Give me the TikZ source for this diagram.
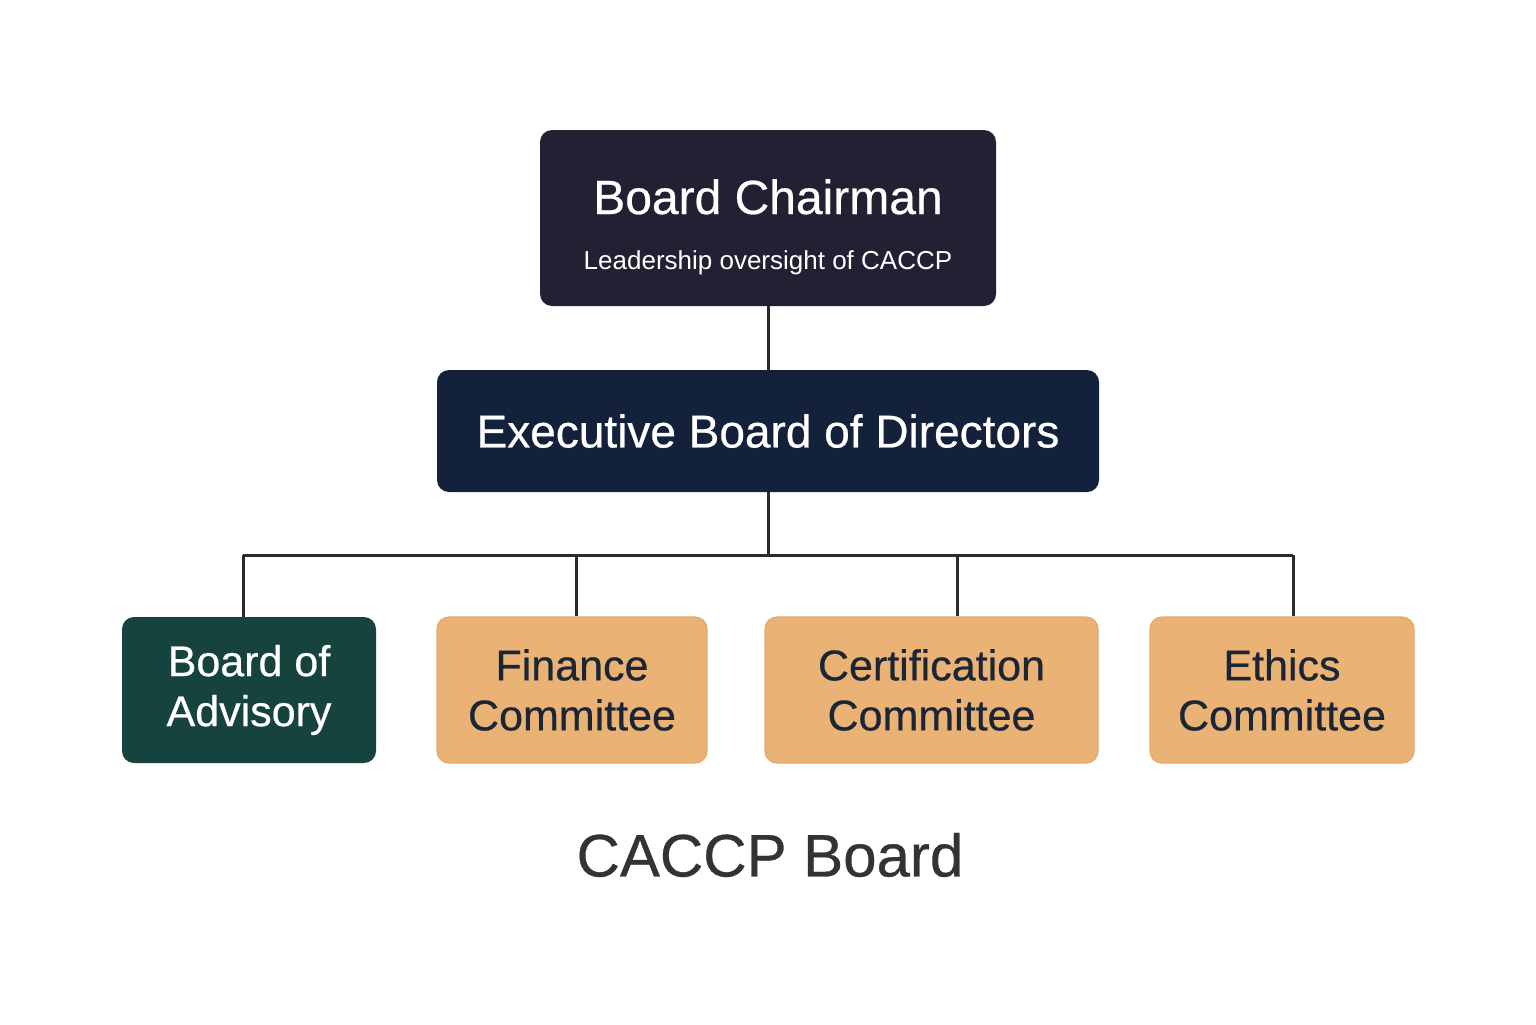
\documentclass[tikz,border=0pt]{standalone}
\usepackage{fontspec}
\setmainfont{Liberation Sans}
\newfontfamily\medfont{Liberation Sans}[BoldFont={Liberation Sans},BoldFeatures={FakeBold=0.5}]
\definecolor{chairc}{HTML}{241F33}
\definecolor{execc}{HTML}{13223A}
\definecolor{advc}{HTML}{17433E}
\definecolor{orgc}{HTML}{EBB275}
\definecolor{orgd}{HTML}{E2A86A}
\definecolor{darktxt}{HTML}{1A2535}
\definecolor{linec}{HTML}{2B2B2B}
\definecolor{titlec}{HTML}{333333}
\begin{document}
\begin{tikzpicture}[x=0.5pt,y=-0.5pt,
  box/.style={rounded corners=6pt, inner sep=0pt, align=center},
  wbox/.style={box, text=white},
  obox/.style={box, fill=orgc, draw=orgd, line width=0.6pt, text=darktxt,
     minimum height=73pt, font=\medfont\bfseries\fontsize{21.5}{25}\selectfont},
  gbox/.style={box, fill=advc, text=white,
     minimum height=73pt, font=\medfont\bfseries\fontsize{21.5}{25}\selectfont},
  conn/.style={draw=linec, line width=1.5pt}]
\useasboundingbox[fill=white] (0,0) rectangle (1536,1024);

\node[wbox, fill=chairc, minimum width=228pt, minimum height=88pt] (chair) at (768,218) {};
\node[text=white, font=\medfont\bfseries\fontsize{24}{28}\selectfont, anchor=base] (chairT) at (768,214) {Board Chairman};
\node[text=white, font=\medfont\fontsize{13}{16}\selectfont, anchor=base] (chairS) at (768,269) {Leadership oversight of CACCP};

\node[wbox, fill=execc, minimum width=331pt, minimum height=61pt,
  font=\medfont\bfseries\fontsize{23}{27}\selectfont] (exec) at (768,431) {Executive Board of Directors};

\node[gbox, minimum width=127pt] (adv) at (249,690) {Board of\\Advisory};
\node[obox, minimum width=135pt] (fin) at (572,690) {Finance\\Committee};
\node[obox, minimum width=166.5pt] (cert) at (931.5,690) {Certification\\Committee};
\node[obox, minimum width=132pt] (eth) at (1282,690) {Ethics\\Committee};

\node[text=titlec, font=\medfont\bfseries\fontsize{30}{34}\selectfont] (title) at (770,855) {CACCP Board};

\coordinate (busC) at (768,555);
\coordinate (busL) at (243,555);
\coordinate (busR) at (1293,555);

\draw[conn] (chair.south) -- (exec.north);
\draw[conn] (exec.south) -- (busC);
\draw[conn] (busL) -- (busR);
\draw[conn] (busL) -- (busL |- adv.north);
\draw[conn] (576,555) -- (576,0 |- fin.north);
\draw[conn] (957,555) -- (957,0 |- cert.north);
\draw[conn] (busR) -- (busR |- eth.north);
\end{tikzpicture}
\end{document}
